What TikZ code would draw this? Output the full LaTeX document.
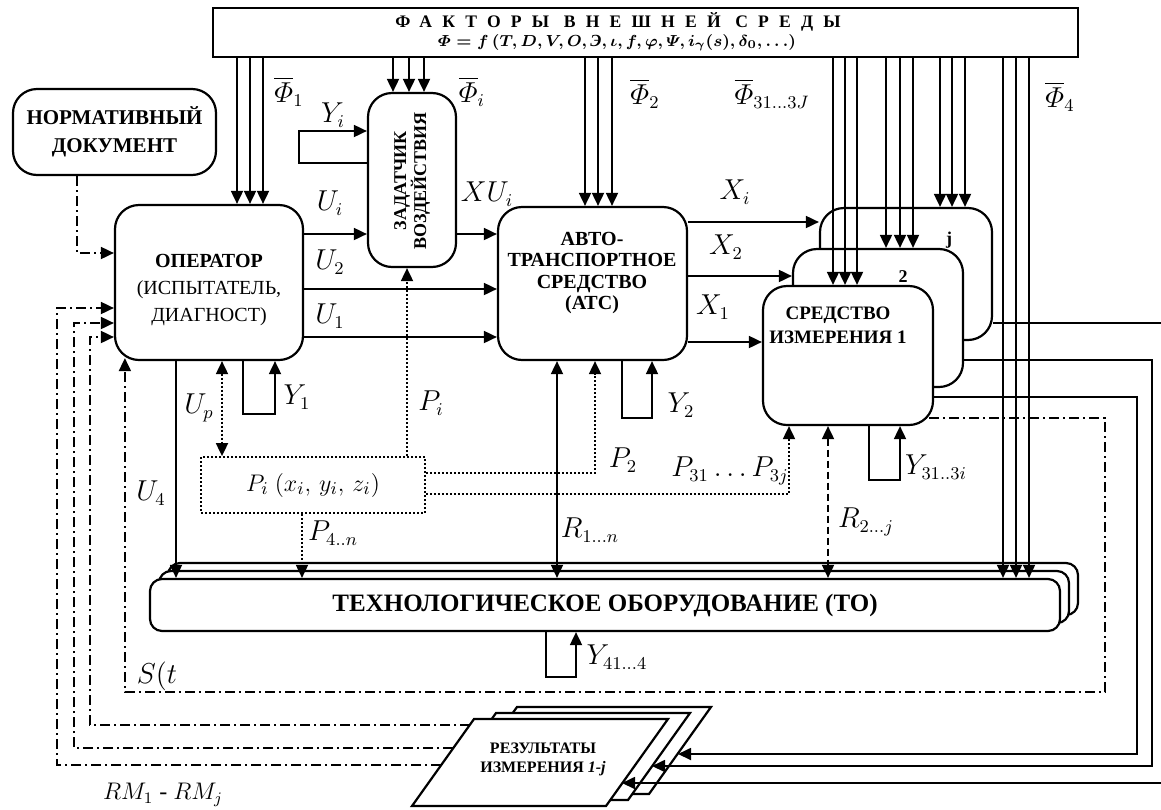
\documentclass[tikz,border=0pt]{standalone}
\usepackage{amssymb}
\usepackage{amsmath}
\usepackage{fontspec}
\setmainfont{Liberation Serif}
\usetikzlibrary{arrows.meta}

\begin{document}
\begin{tikzpicture}[x=0.5pt,y=-0.5pt,line width=0.9pt,
	box/.style={draw,line width=1.1pt,rounded corners=12pt,fill=white,inner sep=0pt},
	btxt/.style={font=\fontsize{10}{12}\selectfont\bfseries,align=center,inner sep=0pt},
	lab/.style={font=\fontsize{13.5}{13.5}\selectfont,inner sep=0pt},
	arr/.style={-{Triangle[length=6.5pt,width=6pt]}},
	darr/.style={{Triangle[length=6.5pt,width=6pt]}-{Triangle[length=6.5pt,width=6pt]}},
	ddot/.style={dash pattern=on 5pt off 2pt on 1pt off 2pt},
	pdot/.style={dash pattern=on 1pt off 1pt},
	pdash/.style={dash pattern=on 3.5pt off 2pt}]
		\useasboundingbox (0,0) rectangle (1161,809);
		\node [draw,line width=1.1pt,minimum width=432.5pt,minimum height=24.5pt,inner sep=0pt] (env) at (645.5,32.5) {};
		\node [inner sep=0pt,font={\fontsize{8.8}{8.8}\selectfont\bfseries\addfontfeature{LetterSpace=58}}] (envtitle) at (618,22) {ФАКТОРЫ ВНЕШНЕЙ СРЕДЫ};
		\node [inner sep=0pt,font=\fontsize{8.5}{8.5}\selectfont\boldmath] (envformula) at (617,43) {$\varPhi = f\,(T, D, V, O, \textbf{\textit{Э}}, \iota, f, \varphi, \varPsi, i_\gamma(s), \delta_0,\ldots)$};
		\node [box,btxt,minimum width=101.5pt,minimum height=43pt,font=\fontsize{10.5}{14}\selectfont\bfseries] (norm) at (114.5,132) {НОРМАТИВНЫЙ\\ДОКУМЕНТ};
		\node [box,minimum width=94pt,minimum height=77.5pt] (oper) at (209,282.5) {};
		\node [btxt,font=\fontsize{10}{13.5}\selectfont\bfseries] (opertxt) at (209,290) {ОПЕРАТОР\\\mdseries (ИСПЫТАТЕЛЬ,\\\mdseries ДИАГНОСТ)};
		\node [box,minimum width=44pt,minimum height=87pt] (zad) at (412,180) {};
		\node [btxt,rotate=90,font=\fontsize{9}{10}\selectfont\bfseries] (zadtxt) at (412,181) {ЗАДАТЧИК\\ВОЗДЕЙСТВИЯ};
		\node [box,minimum width=94.5pt,minimum height=76.5pt] (ats) at (592.5,283.5) {};
		\node [btxt,font=\fontsize{10}{10.8}\selectfont\bfseries] (atstxt) at (592,273) {АВТО-\\ТРАНСПОРТНОЕ\\СРЕДСТВО\\(АТС)};
		\node [box,minimum width=86pt,minimum height=66pt] (sij) at (906,274) {};
		\node [box,minimum width=85pt,minimum height=69pt] (si2) at (878,318) {};
		\node [box,minimum width=85pt,minimum height=69.5pt] (si1) at (848,355.5) {};
		\node [btxt,font=\fontsize{9.5}{12}\selectfont\bfseries] (si1txt) at (838,325) {СРЕДСТВО\\ИЗМЕРЕНИЯ 1};
		\node [btxt,font=\fontsize{9}{9}\selectfont\bfseries] (si2num) at (903,277) {2};
		\node [btxt,font=\fontsize{9}{9}\selectfont\bfseries] (sijnum) at (949,240) {j};
		\node [box,rounded corners=6pt,minimum width=455pt,minimum height=26pt] (to3) at (623,589) {};
		\node [box,rounded corners=6pt,minimum width=455pt,minimum height=26pt] (to2) at (614,597) {};
		\node [box,btxt,rounded corners=6pt,minimum width=455pt,minimum height=26pt,font=\fontsize{12.5}{13}\selectfont\bfseries] (to1) at (605,605) {ТЕХНОЛОГИЧЕСКОЕ ОБОРУДОВАНИЕ (ТО)};
		\node [draw,pdot,fill=white,lab,minimum width=112pt,minimum height=28pt,font=\fontsize{12.5}{13}\selectfont] (pbox) at (313,485) {$P_i\ (x_i,\, y_i,\, z_i)$};
		\foreach \dx/\dy in {43/12,22/6,0/0}
			\draw [line width=1.1pt,fill=white] (474+\dx,719-\dy) -- ++(194,0) -- ++(-62,87) -- ++(-194,0) -- cycle;
		\node [btxt,font=\fontsize{8}{9.5}\selectfont\bfseries] (res) at (543,759) {РЕЗУЛЬТАТЫ\\ИЗМЕРЕНИЯ \textit{1-j}};
		\coordinate (resB) at (678,754);
		\coordinate (resM) at (652,766);
		\coordinate (resF) at (622,783);
		\coordinate (resL1) at (470,725);
		\coordinate (resL2) at (453,748);
		\coordinate (resL3) at (441,765);
		\foreach \x in {237,250,263} \draw [arr] (env.south -| \x,0) -- (oper.north -| \x,0);
		\foreach \x in {393,409,424} \draw [arr] (env.south -| \x,0) -- (zad.north -| \x,0);
		\foreach \x in {585,598,612} \draw [arr] (env.south -| \x,0) -- (ats.north -| \x,0);
		\foreach \x in {833,845,857} \draw [arr] (env.south -| \x,0) -- (si1.north -| \x,0);
		\foreach \x in {886,900,913} \draw [arr] (env.south -| \x,0) -- (si2.north -| \x,0);
		\foreach \x in {940,952,965} \draw [arr] (env.south -| \x,0) -- (sij.north -| \x,0);
		\foreach \x in {1003,1016,1029} \draw [arr] (env.south -| \x,0) -- (to1.north -| \x,0);
		\draw [ddot,arr] (norm.south -| 77,0) |- (oper.west |- 0,253);
		\draw [arr] (zad.west |- 0,163) -- ++(-68,0) |- (zad.west |- 0,131);
		\draw [arr] (oper.east |- 0,234) -- (zad.west |- 0,234);
		\draw [arr] (zad.east |- 0,234) -- (ats.west |- 0,234);
		\draw [arr] (oper.east |- 0,289) -- (ats.west |- 0,289);
		\draw [arr] (oper.east |- 0,337) -- (ats.west |- 0,337);
		\draw [arr] (ats.east |- 0,222) -- (sij.west |- 0,222);
		\draw [arr] (ats.east |- 0,276) -- (si2.west |- 0,276);
		\draw [arr] (ats.east |- 0,342) -- (si1.west |- 0,342);
		\draw [arr] (oper.south -| 176,0) -- (to1.north -| 176,0);
		\draw [pdot,darr] (oper.south -| 222,0) -- (pbox.north -| 222,0);
		\draw [arr] (oper.south -| 243,0) -- ++(0,53) -| (oper.south -| 275,0);
		\draw [pdot,arr] (pbox.north -| 407,0) -- (zad.south -| 407,0);
		\draw [pdot,arr] (pbox.south -| 302,0) -- (to1.north -| 302,0);
		\draw [pdot,arr] (pbox.east |- 0,473) -| (ats.south -| 595,0);
		\draw [pdot,arr] (pbox.east |- 0,494) -| (si1.south -| 789,0);
		\draw [darr] (ats.south -| 557,0) -- (to1.north -| 557,0);
		\draw [arr] (ats.south -| 622,0) -- ++(0,57) -| (ats.south -| 652,0);
		\draw [pdash,darr] (si1.south -| 828,0) -- (to1.north -| 828,0);
		\draw [arr] (si1.south -| 869,0) -- ++(0,54) -| (si1.south -| 900,0);
		\draw [arr] (to1.south -| 546,0) -- ++(0,45) -| (to1.south -| 576,0);
		\draw [ddot,arr] ([shift={(-5,-8)}]si1.south east) -| (1105,692) -| ([shift={(11,-3)}]oper.south west);
		\draw [ddot,arr] (resL1) -| (90,337) -- (oper.west |- 0,337);
		\draw [ddot,arr] (resL2) -| (74,323) -- (oper.west |- 0,323);
		\draw [ddot,arr] (resL3) -| (57,308) -- (oper.west |- 0,308);
		\draw [arr] (si1.east |- 0,397) -| (1137,754) -- (resB);
		\draw [arr] (si2.east |- 0,360) -| (1152,766) -- (resM);
		\draw [arr] (sij.east |- 0,323) -| (1175,783) -- (resF);
		\node [lab] (lPhi1) at (289,92) {$\overline{\varPhi}_1$};
		\node [lab] (lPhii) at (472,92) {$\overline{\varPhi}_i$};
		\node [lab] (lPhi2) at (645,94) {$\overline{\varPhi}_2$};
		\node [lab] (lPhi3) at (772,94) {$\overline{\varPhi}_{31\ldots3J}$};
		\node [lab] (lPhi4) at (1060,97) {$\overline{\varPhi}_4$};
		\node [lab] (lYi) at (333,115) {$Y_i$};
		\node [lab] (lUi) at (330,203) {$U_i$};
		\node [lab] (lU2) at (330,262) {$U_2$};
		\node [lab] (lU1) at (330,316) {$U_1$};
		\node [lab] (lXUi) at (487,194) {$XU_i$};
		\node [lab] (lXi) at (735,192) {$X_i$};
		\node [lab] (lX2) at (726,247) {$X_2$};
		\node [lab] (lX1) at (713,307) {$X_1$};
		\node [lab] (lY1) at (297,397) {$Y_1$};
		\node [lab] (lUp) at (199,408) {$U_p$};
		\node [lab] (lPi) at (431,403) {$P_i$};
		\node [lab] (lU4) at (151,493) {$U_4$};
		\node [lab] (lP4n) at (333,533) {$P_{4..n}$};
		\node [lab] (lP2) at (623,460) {$P_2$};
		\node [lab] (lP3) at (730,471) {$P_{31}\ldots P_{3j}$};
		\node [lab] (lR1n) at (590,530) {$R_{1\ldots n}$};
		\node [lab] (lR2j) at (866,522) {$R_{2\ldots j}$};
		\node [lab] (lY2) at (681,405) {$Y_2$};
		\node [lab] (lY3) at (936,467) {$Y_{31..3i}$};
		\node [lab] (lY4) at (617,657) {$Y_{41\ldots4}$};
		\node [lab] (lSt) at (157,676) {$S(t$};
		\node [lab,font=\fontsize{12}{12}\selectfont] (lRM) at (163,795) {$RM_1$ - $RM_j$};
	\end{tikzpicture}
\end{document}
